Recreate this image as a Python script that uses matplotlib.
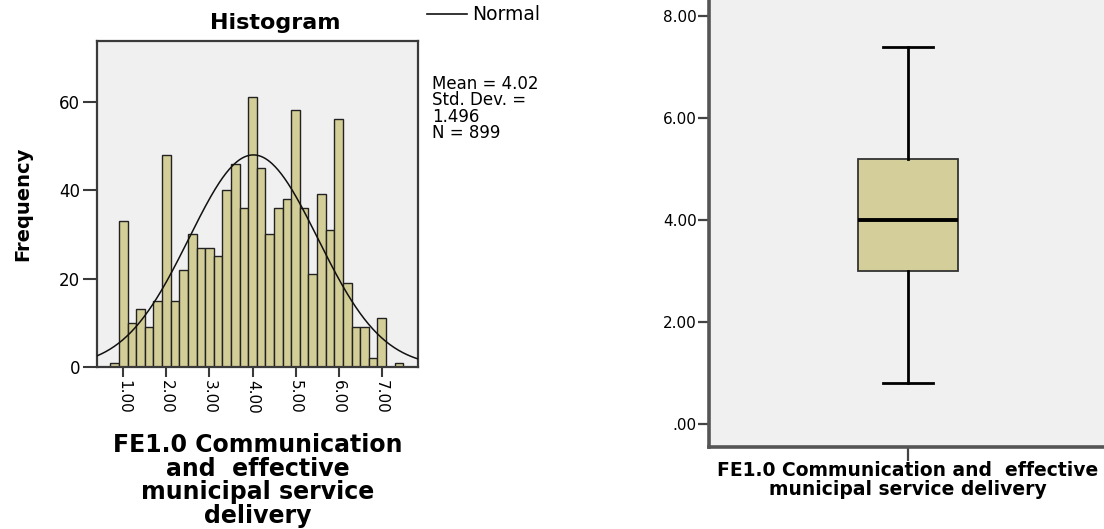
import numpy as np
import matplotlib
matplotlib.use("Agg")
import matplotlib.pyplot as plt
from matplotlib.lines import Line2D
from matplotlib.ticker import FuncFormatter

# histogram data (bin centres, width 0.2)
bin_centers = [0.8, 1.0, 1.2, 1.4, 1.6, 1.8, 2.0, 2.2, 2.4, 2.6, 2.8, 3.0,
               3.2, 3.4, 3.6, 3.8, 4.0, 4.2, 4.4, 4.6, 4.8, 5.0, 5.2, 5.4,
               5.6, 5.8, 6.0, 6.2, 6.4, 6.6, 6.8, 7.0, 7.2, 7.4]
counts = [1, 33, 10, 13, 9, 15, 48, 15, 22, 30, 27, 27,
          25, 40, 46, 36, 61, 45, 30, 36, 38, 58, 36, 21,
          39, 31, 56, 19, 9, 9, 2, 11, 0, 1]
bin_width = 0.2
mean_val = 4.02
std_val = 1.496
n_val = 899

hist_xticks = [1, 2, 3, 4, 5, 6, 7]
hist_yticks = [0, 20, 40, 60]

# boxplot stats
box_q1 = 3.0
box_med = 4.0
box_q3 = 5.2
box_lo = 0.8
box_hi = 7.4
box_yticks = [0, 2, 4, 6, 8]

bg = "#F0F0F0"
tan = "#D3CE98"
spine_c = "#3A3A3A"

plt.rcParams['font.family'] = ['DejaVu Sans']

fig = plt.figure(figsize=(11.04, 5.29), dpi=100)

# ---------------- histogram ----------------
ax = fig.add_axes([97/1104, 1-367/529, (418-97)/1104, (367-41)/529])
ax.set_facecolor(bg)
ax.bar(bin_centers, counts, width=bin_width, color=tan, edgecolor="#222222", linewidth=1.0, zorder=2)
xs = np.linspace(0.388, 7.844, 300)
ys = n_val * bin_width / (std_val*np.sqrt(2*np.pi)) * np.exp(-0.5*((xs-mean_val)/std_val)**2)
ax.plot(xs, ys, color="#111111", lw=1.1, zorder=3)
ax.set_xlim(0.388, 7.844)
ax.set_ylim(0, 73.7)
ax.set_xticks(hist_xticks)
ax.set_xticklabels(["%.2f" % v for v in hist_xticks], rotation=270, fontsize=11)
ax.set_yticks(hist_yticks)
ax.set_yticklabels([str(v) for v in hist_yticks], fontsize=12)
ax.tick_params(axis='y', length=10, width=1.5, color=spine_c, pad=2)
ax.tick_params(axis='x', length=7, width=1.5, color=spine_c, pad=2)
for s in ax.spines.values():
    s.set_color(spine_c)
    s.set_linewidth(1.6)

fig.text(275/1104, 1-29.3/529, "Histogram", fontsize=16, fontweight='bold', ha='center', va='baseline')
fig.text(0.0204, 1-203.5/529, "Frequency", fontsize=14, fontweight='bold', rotation=90, ha='center', va='center')
fig.text(257.5/1104, 1-433/529, "FE1.0 Communication\nand  effective\nmunicipal service\ndelivery",
         fontsize=17, fontweight='bold', ha='center', va='top', multialignment='center', linespacing=0.98)

# legend + stats
fig.add_artist(Line2D([426.7/1104, 466.7/1104], [1-14/529, 1-14/529], color="#111111", lw=1.2))
fig.text(472/1104, 1-15/529, "Normal", fontsize=13.5, ha='left', va='center')
fig.text(432/1104, 1-75/529, "Mean = %.2f\nStd. Dev. =\n%.3f\nN = %d" % (mean_val, std_val, n_val),
         fontsize=12, ha='left', va='top', linespacing=0.88)

# ---------------- boxplot ----------------
bx = fig.add_axes([709/1104, 1-446.7/529, (1107-709)/1104, 446.7/529 + 0.02])
bx.set_facecolor(bg)
stats = [dict(med=box_med, q1=box_q1, q3=box_q3, whislo=box_lo, whishi=box_hi, fliers=[])]
bx.bxp(stats, positions=[1], widths=0.25, patch_artist=True, showfliers=False,
       boxprops=dict(facecolor="#D4CF9A", edgecolor="#333333", linewidth=1.3),
       medianprops=dict(color="black", linewidth=2.8),
       whiskerprops=dict(color="black", linewidth=2),
       capprops=dict(color="black", linewidth=2))
bx.set_xlim(0.5, 1.5)
top_val = 8 + (16 + 0.02*529)/51.0
bx.set_ylim(-0.445, top_val)
bx.set_yticks(box_yticks)
bx.yaxis.set_major_formatter(FuncFormatter(lambda v, p: ".00" if v == 0 else "%.2f" % v))
bx.set_xticks([1])
bx.set_xticklabels([""])
bx.tick_params(axis='y', length=8, width=1.6, color="#444444", labelsize=11, pad=1)
bx.tick_params(axis='x', length=10, width=1.6, color="#444444")
bx.spines['top'].set_visible(False)
bx.spines['right'].set_visible(False)
for k in ['left', 'bottom']:
    bx.spines[k].set_color("#555555")
    bx.spines[k].set_linewidth(2.6)

fig.text(908/1104, 1-461/529, "FE1.0 Communication and  effective\nmunicipal service delivery",
         fontsize=13.5, fontweight='bold', ha='center', va='top', multialignment='center', linespacing=1.0)

fig.savefig("out.png", dpi=100)
